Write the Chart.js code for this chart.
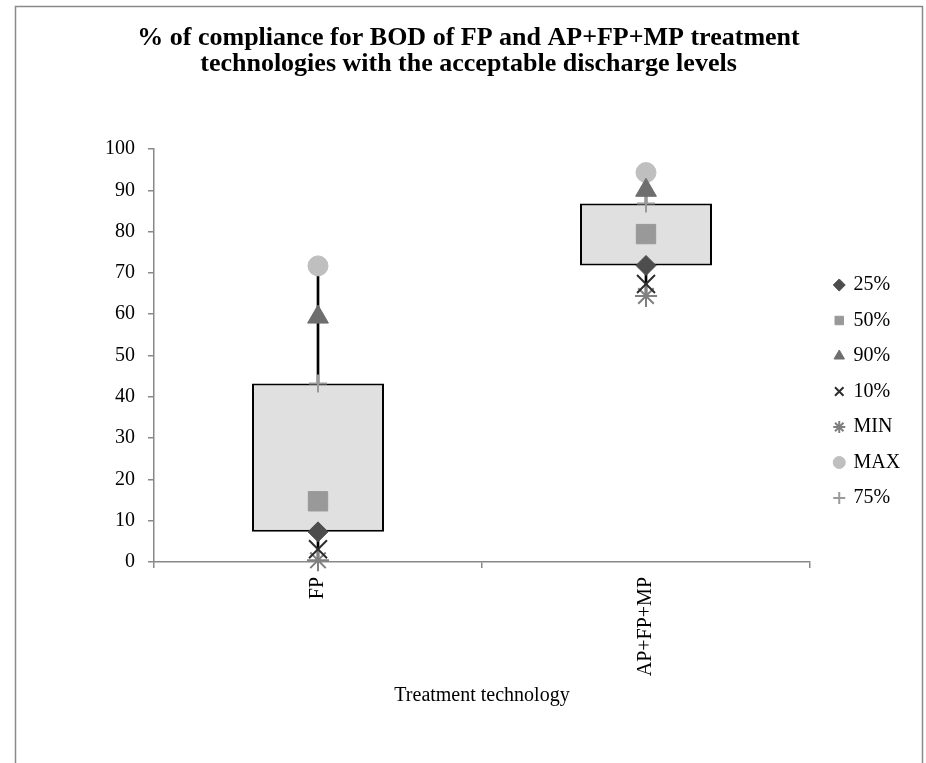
<!DOCTYPE html>
<html><head><meta charset="utf-8">
<script src="https://cdn.jsdelivr.net/npm/chart.js@4/dist/chart.umd.min.js"></script>
<style>html,body{margin:0;padding:0;background:#fff;} canvas{display:block;}</style>
</head><body>
<canvas id="c" width="926" height="763"></canvas>
<script>
const categories = ['FP', 'AP+FP+MP'];
const p25 = [7.3, 71.8];
const p50 = [14.7, 79.4];
const p90 = [59.3, 90.0];
const p10 = [3.1, 67.3];
const minVals = [0.4, 64.4];
const maxVals = [71.7, 94.3];
const p75 = [43.2, 86.8];
const yTicks = [0, 10, 20, 30, 40, 50, 60, 70, 80, 90, 100];
const titleLines = ['% of compliance for BOD of FP and AP+FP+MP treatment', 'technologies with the acceptable discharge levels'];
const xTitle = 'Treatment technology';

const serif = 'Liberation Serif, Times New Roman, serif';
const f20 = {family: serif, size: 20};

function pts(label, data, style, radius, bg, border, bw) {
  return {type: 'line', label, data, showLine: false, pointStyle: style, pointRadius: radius,
    pointHoverRadius: radius, backgroundColor: bg, borderColor: border, pointBackgroundColor: bg,
    pointBorderColor: border, borderWidth: bw, pointBorderWidth: bw, order: 0, clip: false};
}

const framePlugin = {
  id: 'frame',
  beforeDraw(chart) {
    const ctx = chart.ctx;
    ctx.save();
    ctx.fillStyle = '#fff';
    ctx.fillRect(0, 0, chart.width, chart.height);
    ctx.strokeStyle = '#8a8a8a';
    ctx.lineWidth = 1.5;
    ctx.strokeRect(15.5, 6.5, 907, 800);
    ctx.restore();
  },
  afterLayout(chart) {
    if (chart.legend) { chart.legend.left += 9.5; chart.legend.right += 9.5; }
  }
};

new Chart(document.getElementById('c'), {
  type: 'bar',
  data: {
    labels: categories,
    datasets: [
      pts('25%', p25, 'rectRot', 10, '#4d4d4d', '#4d4d4d', 1),
      pts('50%', p50, 'rect', 13.7, '#999999', '#999999', 1),
      pts('90%', p90, 'triangle', 12, '#6e6e6e', '#6e6e6e', 1),
      pts('10%', p10, 'crossRot', 12.7, '#2e2e2e', '#2e2e2e', 2),
      pts('MIN', minVals, 'star', 11, '#808080', '#808080', 2),
      pts('MAX', maxVals, 'circle', 10, '#bfbfbf', '#bfbfbf', 1),
      pts('75%', p75, 'cross', 9, '#9a9a9a', '#9a9a9a', 2),
      {label: '', data: categories.map((c, i) => [p25[i], p75[i]]), backgroundColor: '#e0e0e0',
        borderColor: '#000', borderWidth: 2, borderSkipped: false, barPercentage: 1,
        categoryPercentage: 0.4024, grouped: false, order: 2},
      {label: '', data: categories.map((c, i) => [p75[i], maxVals[i]]), backgroundColor: '#000',
        borderWidth: 0, barThickness: 2, grouped: false, order: 3},
      {label: '', data: categories.map((c, i) => [minVals[i], p25[i]]), backgroundColor: '#000',
        borderWidth: 0, barThickness: 2, grouped: false, order: 3}
    ]
  },
  options: {
    responsive: false,
    animation: false,
    devicePixelRatio: 1,
    events: [],
    layout: {padding: {left: 37, right: 26, top: 0, bottom: 55}},
    plugins: {
      tooltip: {enabled: false},
      title: {display: true, text: titleLines, color: '#000',
        font: {family: serif, size: 26, weight: 'bold', lineHeight: 1.027},
        padding: {top: 24.5, bottom: 71.1}},
      legend: {
        position: 'right', align: 'center', fullSize: false, maxWidth: 90,
        title: {display: true, text: '', padding: {top: 60, bottom: 0}, font: {size: 10}},
        labels: {usePointStyle: true, boxWidth: 8.5, boxHeight: 8.5, padding: 15.5,
          font: f20, color: '#000', filter: (item) => item.text !== ''}
      }
    },
    scales: {
      x: {
        type: 'category', offset: true,
        grid: {offset: true, drawOnChartArea: false, drawTicks: true, tickLength: 6, color: '#888', lineWidth: 1.5},
        border: {color: '#888', width: 1.5},
        ticks: {font: f20, color: '#000', maxRotation: 90, minRotation: 90, padding: 9},
        title: {display: true, text: xTitle, font: f20, color: '#000', padding: 0},
        afterFit: (s) => { s.height = 146; }
      },
      y: {
        min: yTicks[0], max: yTicks[yTicks.length - 1],
        afterBuildTicks: (s) => { s.ticks = yTicks.map(v => ({value: v})); },
        grid: {drawOnChartArea: false, drawTicks: true, tickLength: 6, color: '#888', lineWidth: 1.5},
        border: {color: '#888', width: 1.5},
        ticks: {font: f20, color: '#000', padding: 13},
        afterFit: (s) => { s.width = 117; }
      }
    }
  },
  plugins: [framePlugin]
});
</script>
</body></html>
